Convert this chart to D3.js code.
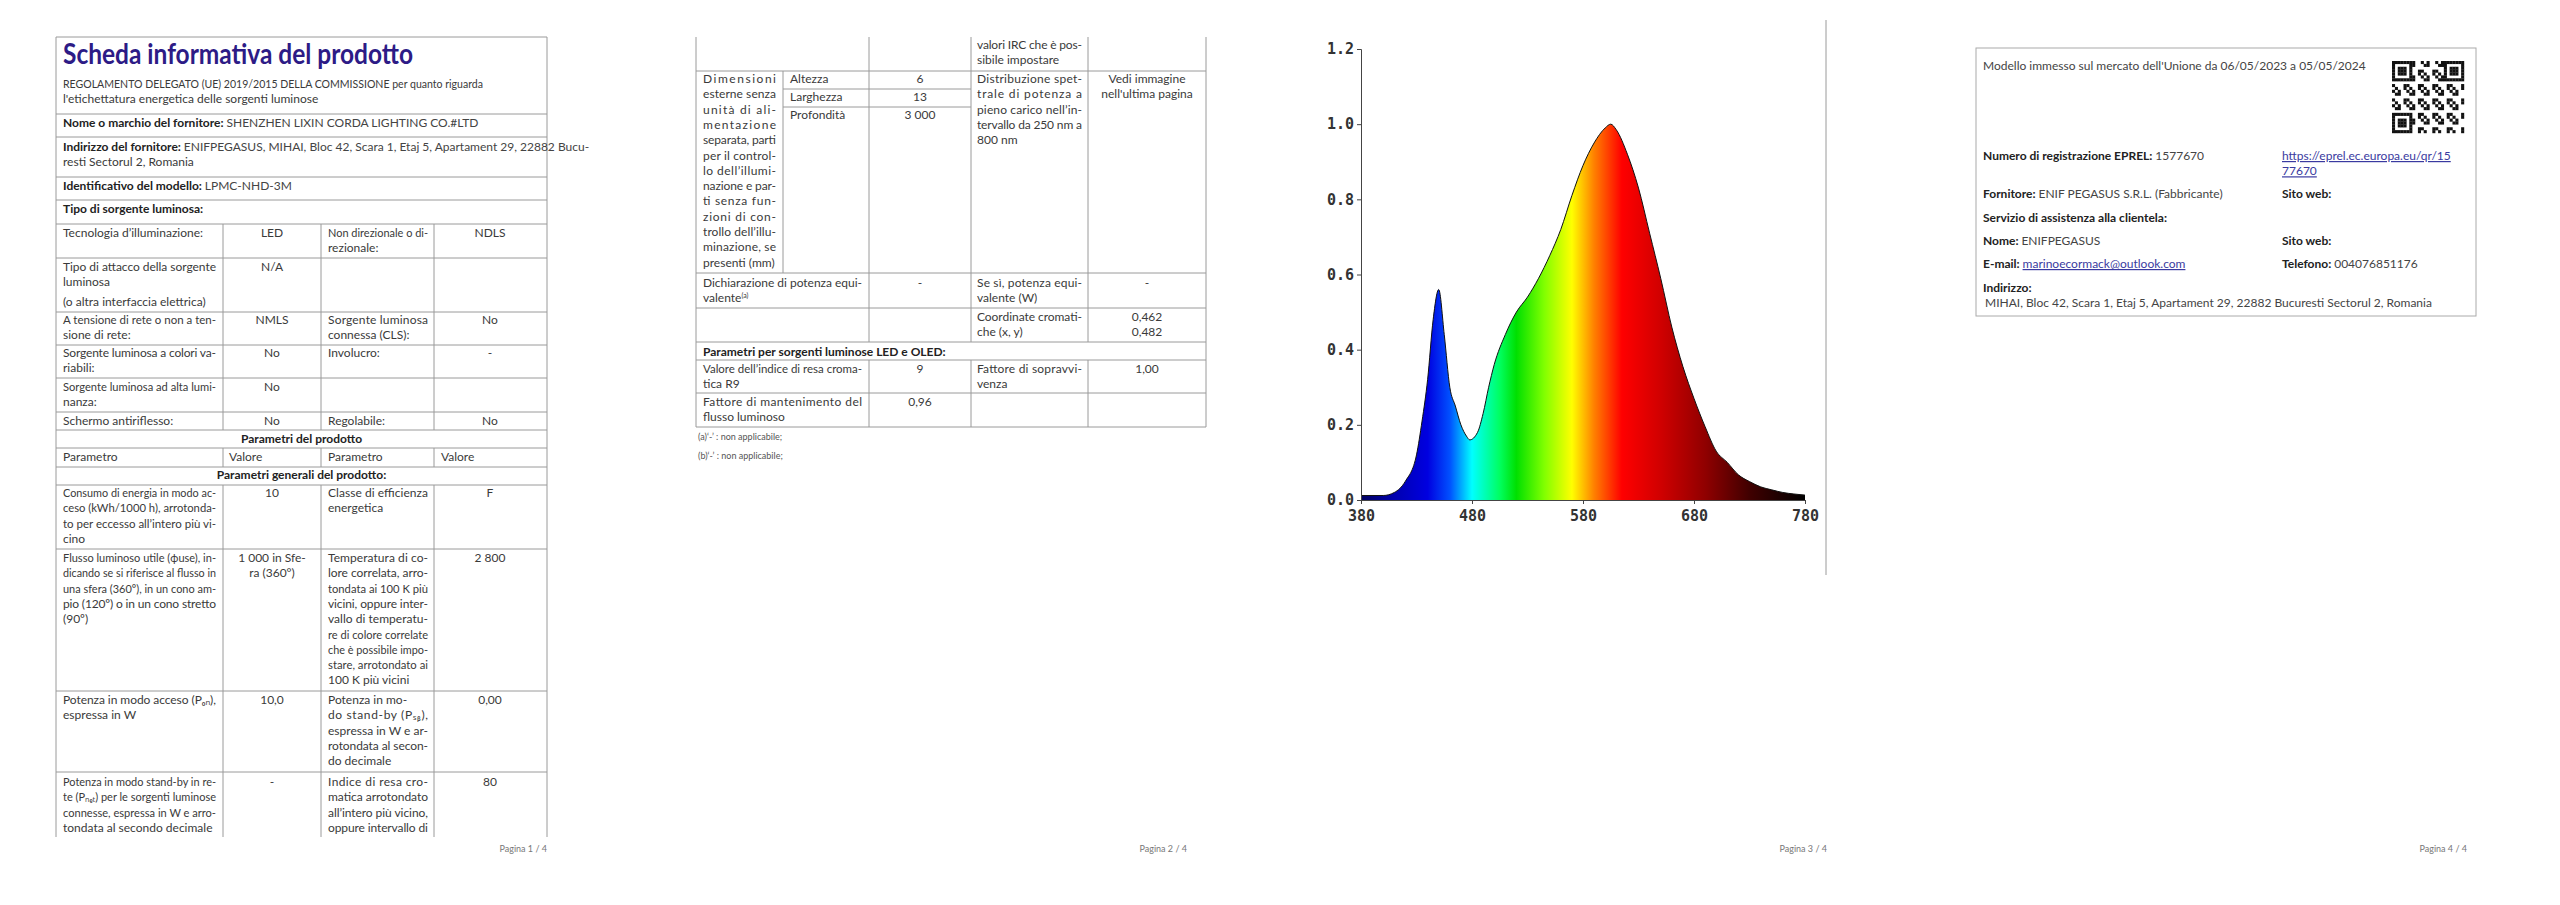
<!DOCTYPE html>
<html><head><meta charset="utf-8">
<script src="https://cdn.jsdelivr.net/npm/d3@7/dist/d3.min.js"></script>
<style>body{margin:0;background:#fff}svg{display:block}</style>
</head><body>
<svg id="s" width="2560" height="905"></svg>
<script>
// ---- Spectrum data ----
const wavelengths = [380,400,410,420,430,435,440,445,450,455,460,465,470,475,478,485,490,495,500,510,520,530,540,550,560,570,580,590,600,605,610,620,630,640,650,660,670,680,690,700,710,720,730,740,750,760,770,780];
const intensity   = [0.012,0.012,0.02,0.05,0.12,0.21,0.32,0.48,0.56,0.44,0.30,0.25,0.20,0.17,0.16,0.18,0.23,0.30,0.36,0.44,0.50,0.54,0.59,0.65,0.72,0.81,0.89,0.95,0.99,1.0,0.985,0.92,0.83,0.71,0.59,0.46,0.355,0.27,0.195,0.13,0.10,0.067,0.049,0.035,0.027,0.02,0.016,0.013];
const xTicks = [380,480,580,680,780];
const yTicks = [0,0.2,0.4,0.6,0.8,1.0,1.2];
const colorStops = [[380,"#000060"],[410,"#0000b0"],[440,"#0000e0"],[460,"#0050ff"],[480,"#00ffff"],[505,"#00ff60"],[520,"#00e000"],[545,"#80ff00"],[570,"#ffff00"],[590,"#ff8000"],[615,"#ff0000"],[650,"#d00000"],[690,"#900000"],[730,"#400000"],[780,"#000000"]];

const svg = d3.select("#s");
const F = "Lato, 'Open Sans', sans-serif";
const LH = 15.3;

function txt(x,y,lines,o={}){
  const g = svg.append("text").attr("x",x).attr("y",y+4).attr("font-family",F)
    .attr("font-size",o.size||12).attr("fill",o.fill||"#3a3a3a")
    .attr("font-weight",o.bold?"700":"400").attr("text-anchor",o.anchor||"start");
  const arr = Array.isArray(lines)?lines:[lines];
  arr.forEach((l,i)=>{
    const t = g.append("tspan").attr("x",x).attr("dy",i?LH:0).text(l);
    if(o.w){
      const len = t.node().getComputedTextLength();
      if(len>o.w || (i<arr.length-1 && len>0.8*o.w)) t.attr("textLength",o.w).attr("lengthAdjust", len>o.w*1.04?"spacingAndGlyphs":"spacing");
    }
  });
  return g;
}
function lbl(x,y,b,v){
  const t = svg.append("text").attr("x",x).attr("y",y+4).attr("font-family",F).attr("font-size",12).attr("fill","#222");
  t.append("tspan").attr("font-weight","700").text(b+"  ");
  t.append("tspan").attr("fill","#444").text(v);
}
function line(x1,y1,x2,y2){svg.append("line").attr("x1",x1).attr("y1",y1).attr("x2",x2).attr("y2",y2).attr("stroke","#9a9a9a").attr("stroke-width",1);}

// ================= PAGE 1 =================
const L1=56,R1=547,c1=[223,321,434];
line(L1,37,R1,37); line(L1,37,L1,837); line(R1,37,R1,837);
[114,137,177,200,224].forEach(y=>line(L1,y,R1,y));
[258,312,345,378,412,430,448,467,485,549,691,772].forEach(y=>line(L1,y,R1,y));
c1.forEach(x=>{line(x,224,x,430);});
c1.forEach(x=>{line(x,448,x,467);line(x,485,x,837);});
svg.append("text").attr("x",63).attr("y",64).attr("font-family",F).attr("font-size",29).attr("font-weight","700")
  .attr("fill","#2d1b86").attr("textLength",350).attr("lengthAdjust","spacingAndGlyphs").text("Scheda informativa del prodotto");
txt(63,84,["REGOLAMENTO DELEGATO (UE) 2019/2015 DELLA COMMISSIONE per quanto riguarda","l'etichettatura energetica delle sorgenti luminose"],{w:420});
lbl(63,123,"Nome o marchio del fornitore:","SHENZHEN LIXIN CORDA LIGHTING CO.#LTD");
lbl(63,147,"Indirizzo del fornitore:","ENIFPEGASUS, MIHAI, Bloc 42, Scara 1, Etaj 5, Apartament 29, 22882 Bucu-");
txt(63,162,"resti Sectorul 2, Romania");
lbl(63,186,"Identificativo del modello:","LPMC-NHD-3M");
txt(63,209,"Tipo di sorgente luminosa:",{bold:true,fill:"#222"});
const v1=272,v2=490,p3=328,W1=153,W3=100;
txt(63,233,["Tecnologia d’illuminazione:"]); txt(v1,233,"LED",{anchor:"middle"}); txt(p3,233,["Non direzionale o di-","rezionale:"],{w:W3}); txt(v2,233,"NDLS",{anchor:"middle"});
txt(63,267,["Tipo di attacco della sorgente","luminosa"],{w:W1}); txt(63,302,"(o altra interfaccia elettrica)"); txt(v1,267,"N/A",{anchor:"middle"});
txt(63,320,["A tensione di rete o non a ten-","sione di rete:"],{w:W1}); txt(v1,320,"NMLS",{anchor:"middle"}); txt(p3,320,["Sorgente luminosa","connessa (CLS):"],{w:W3}); txt(v2,320,"No",{anchor:"middle"});
txt(63,353,["Sorgente luminosa a colori va-","riabili:"],{w:W1}); txt(v1,353,"No",{anchor:"middle"}); txt(p3,353,"Involucro:"); txt(v2,353,"-",{anchor:"middle"});
txt(63,387,["Sorgente luminosa ad alta lumi-","nanza:"],{w:W1}); txt(v1,387,"No",{anchor:"middle"});
txt(63,421,"Schermo antiriflesso:"); txt(v1,421,"No",{anchor:"middle"}); txt(p3,421,"Regolabile:"); txt(v2,421,"No",{anchor:"middle"});
txt((L1+R1)/2,439,"Parametri del prodotto",{bold:true,anchor:"middle",fill:"#222"});
txt(63,457,"Parametro"); txt(229,457,"Valore"); txt(p3,457,"Parametro"); txt(441,457,"Valore");
txt((L1+R1)/2,475,"Parametri generali del prodotto:",{bold:true,anchor:"middle",fill:"#222"});
txt(63,493,["Consumo di energia in modo ac-","ceso (kWh/1000 h), arrotonda-","to per eccesso all’intero più vi-","cino"],{w:W1}); txt(v1,493,"10",{anchor:"middle"});
txt(p3,493,["Classe di efficienza","energetica"],{w:W3}); txt(v2,493,"F",{anchor:"middle"});
txt(63,558,["Flusso luminoso utile (ϕuse), in-","dicando se si riferisce al flusso in","una sfera (360º), in un cono am-","pio (120º) o in un cono stretto","(90º)"],{w:W1});
txt(v1,558,["1 000 in Sfe-","ra (360°)"],{anchor:"middle"}).selectAll("tspan").attr("x",v1);
txt(p3,558,["Temperatura di co-","lore correlata, arro-","tondata ai 100 K più","vicini, oppure inter-","vallo di temperatu-","re di colore correlate","che è possibile impo-","stare, arrotondato ai","100 K più vicini"],{w:W3});
txt(v2,558,"2 800",{anchor:"middle"});
txt(63,700,["Potenza in modo acceso (Pₒₙ),","espressa in W"],{w:W1}); txt(v1,700,"10,0",{anchor:"middle"});
txt(p3,700,["Potenza in mo-","do stand-by (Pₛᵦ),","espressa in W e ar-","rotondata al secon-","do decimale"],{w:W3}); txt(v2,700,"0,00",{anchor:"middle"});
txt(63,782,["Potenza in modo stand-by in re-","te (Pₙₑₜ) per le sorgenti luminose","connesse, espressa in W e arro-","tondata al secondo decimale"],{w:W1}); txt(v1,782,"-",{anchor:"middle"});
txt(p3,782,["Indice di resa cro-","matica arrotondato","all’intero più vicino,","oppure intervallo di"],{w:W3}); txt(v2,782,"80",{anchor:"middle"});

// footers
[1,2,3,4].forEach(i=>txt(547+640*(i-1),848,`Pagina ${i} / 4`,{size:9,anchor:"end",fill:"#777"}));

// ================= PAGE 2 =================
const L2=696,R2=1206,c2=[783,869,971,1088];
line(L2,37,L2,427); line(R2,37,R2,427);
[71,273,308,342,360,393,427].forEach(y=>line(L2,y,R2,y));
line(783,89,971,89); line(783,107,971,107);
[869,971,1088].forEach(x=>{line(x,37,x,342);line(x,360,x,427);});
line(783,71,783,273);
const w2=920,u2=1147,q2=977,WQ=105;
txt(q2,45,["valori IRC che è pos-","sibile impostare"],{w:WQ});
txt(703,79,["Dimensioni","esterne senza","unità di ali-","mentazione","separata, parti","per il control-","lo dell’illumi-","nazione e par-","ti senza fun-","zioni di con-","trollo dell’illu-","minazione, se","presenti (mm)"],{w:73});
txt(790,79,"Altezza"); txt(w2,79,"6",{anchor:"middle"});
txt(790,97,"Larghezza"); txt(w2,97,"13",{anchor:"middle"});
txt(790,115,"Profondità"); txt(w2,115,"3 000",{anchor:"middle"});
txt(q2,79,["Distribuzione spet-","trale di potenza a","pieno carico nell’in-","tervallo da 250 nm a","800 nm"],{w:WQ});
txt(u2,79,["Vedi immagine","nell'ultima pagina"],{anchor:"middle"}).selectAll("tspan").attr("x",u2);
const dich = txt(703,283,["Dichiarazione di potenza equi-","valente"],{w:159});
dich.append("tspan").attr("font-size",7).attr("dy",-4).text("(a)");
txt(w2,283,"-",{anchor:"middle"});
txt(q2,283,["Se sì, potenza equi-","valente (W)"],{w:WQ}); txt(u2,283,"-",{anchor:"middle"});
txt(q2,317,["Coordinate cromati-","che (x, y)"],{w:WQ});
txt(u2,317,["0,462","0,482"],{anchor:"middle"}).selectAll("tspan").attr("x",u2);
txt(703,352,"Parametri per sorgenti luminose LED e OLED:",{bold:true,fill:"#222"});
txt(703,369,["Valore dell’indice di resa croma-","tica R9"],{w:159}); txt(w2,369,"9",{anchor:"middle"});
txt(q2,369,["Fattore di sopravvi-","venza"],{w:WQ}); txt(u2,369,"1,00",{anchor:"middle"});
txt(703,402,["Fattore di mantenimento del","flusso luminoso"],{w:159}); txt(w2,402,"0,96",{anchor:"middle"});
txt(698,436,"(a)‘-’ : non applicabile;",{size:9,fill:"#555"});
txt(698,455,"(b)‘-’ : non applicabile;",{size:9,fill:"#555"});

// ================= PAGE 3 : spectrum chart =================
const x = d3.scaleLinear().domain([380,780]).range([1361,1805]);
const y = d3.scaleLinear().domain([0,1.2]).range([500,49]);
const defs = svg.append("defs");
const grad = defs.append("linearGradient").attr("id","spec").attr("gradientUnits","userSpaceOnUse")
  .attr("x1",x(380)).attr("x2",x(780)).attr("y1",0).attr("y2",0);
colorStops.forEach(([w,c])=>grad.append("stop").attr("offset",(w-380)/400).attr("stop-color",c));
const pts = wavelengths.map((w,i)=>[w,intensity[i]]);
svg.append("path").datum(pts).attr("fill","url(#spec)")
  .attr("d",d3.area().x(d=>x(d[0])).y0(y(0)).y1(d=>y(d[1])).curve(d3.curveMonotoneX));
svg.append("path").datum(pts).attr("fill","none").attr("stroke","#111").attr("stroke-width",1)
  .attr("d",d3.line().x(d=>x(d[0])).y(d=>y(d[1])).curve(d3.curveMonotoneX));
const ax = svg.append("g").attr("transform",`translate(0,${y(0)})`)
  .call(d3.axisBottom(x).tickValues(xTicks).tickSize(4).tickFormat(d3.format("d")));
const ay = svg.append("g").attr("transform",`translate(${x(380)},0)`)
  .call(d3.axisLeft(y).tickValues(yTicks).tickSize(4).tickFormat(d3.format(".1f")));
[ax,ay].forEach(a=>{a.selectAll("text").attr("font-family","'DejaVu Sans Mono', monospace").attr("font-weight","700").attr("font-size",15).attr("fill","#333");
  a.selectAll("path,line").attr("stroke","#444");});
ax.selectAll("text").attr("dy","0.9em");
line(1826,20,1826,575);

// ================= PAGE 4 =================
svg.append("rect").attr("x",1976).attr("y",48).attr("width",500).attr("height",268).attr("fill","none").attr("stroke","#aaa");
txt(1983,66,"Modello immesso sul mercato dell'Unione da 06/05/2023 a 05/05/2024",{fill:"#444"});
const qr = svg.append("g").attr("transform","translate(2392,61)");
const N=25, cs=72/N;
for(let r=0;r<N;r++)for(let c=0;c<N;c++){
  const fin=(r<7&&c<7)||(r<7&&c>=N-7)||(r>=N-7&&c<7);
  let on;
  if(fin){const rr=r<7?r:r-(N-7), cc=c<7?c:c-(N-7); const m=Math.max(Math.abs(rr-3),Math.abs(cc-3)); on=(m!==2);}
  else on=((r*7+c*13+r*c)%5)<2;
  if(on) qr.append("rect").attr("x",c*cs).attr("y",r*cs).attr("width",cs+0.2).attr("height",cs+0.2).attr("fill","#111");
}
lbl(1983,156,"Numero di registrazione EPREL:","1577670");
txt(2282,156,["https://eprel.ec.europa.eu/qr/15","77670"],{fill:"#3a3aa0"}).attr("text-decoration","underline");
lbl(1983,194,"Fornitore:","ENIF PEGASUS S.R.L. (Fabbricante)");
txt(2282,194,"Sito web:",{bold:true,fill:"#222"});
txt(1983,218,"Servizio di assistenza alla clientela:",{bold:true,fill:"#222"});
lbl(1983,241,"Nome:","ENIFPEGASUS");
txt(2282,241,"Sito web:",{bold:true,fill:"#222"});
const em=svg.append("text").attr("x",1983).attr("y",268).attr("font-family",F).attr("font-size",12);
em.append("tspan").attr("font-weight","700").attr("fill","#222").text("E-mail:  ");
em.append("tspan").attr("fill","#3a3aa0").attr("text-decoration","underline").text("marinoecormack@outlook.com");
lbl(2282,264,"Telefono:","004076851176");
txt(1983,288,"Indirizzo:",{bold:true,fill:"#222"});
txt(1985,303,"MIHAI, Bloc 42, Scara 1, Etaj 5, Apartament 29, 22882 Bucuresti Sectorul 2, Romania",{fill:"#444"});
</script>
</body></html>
